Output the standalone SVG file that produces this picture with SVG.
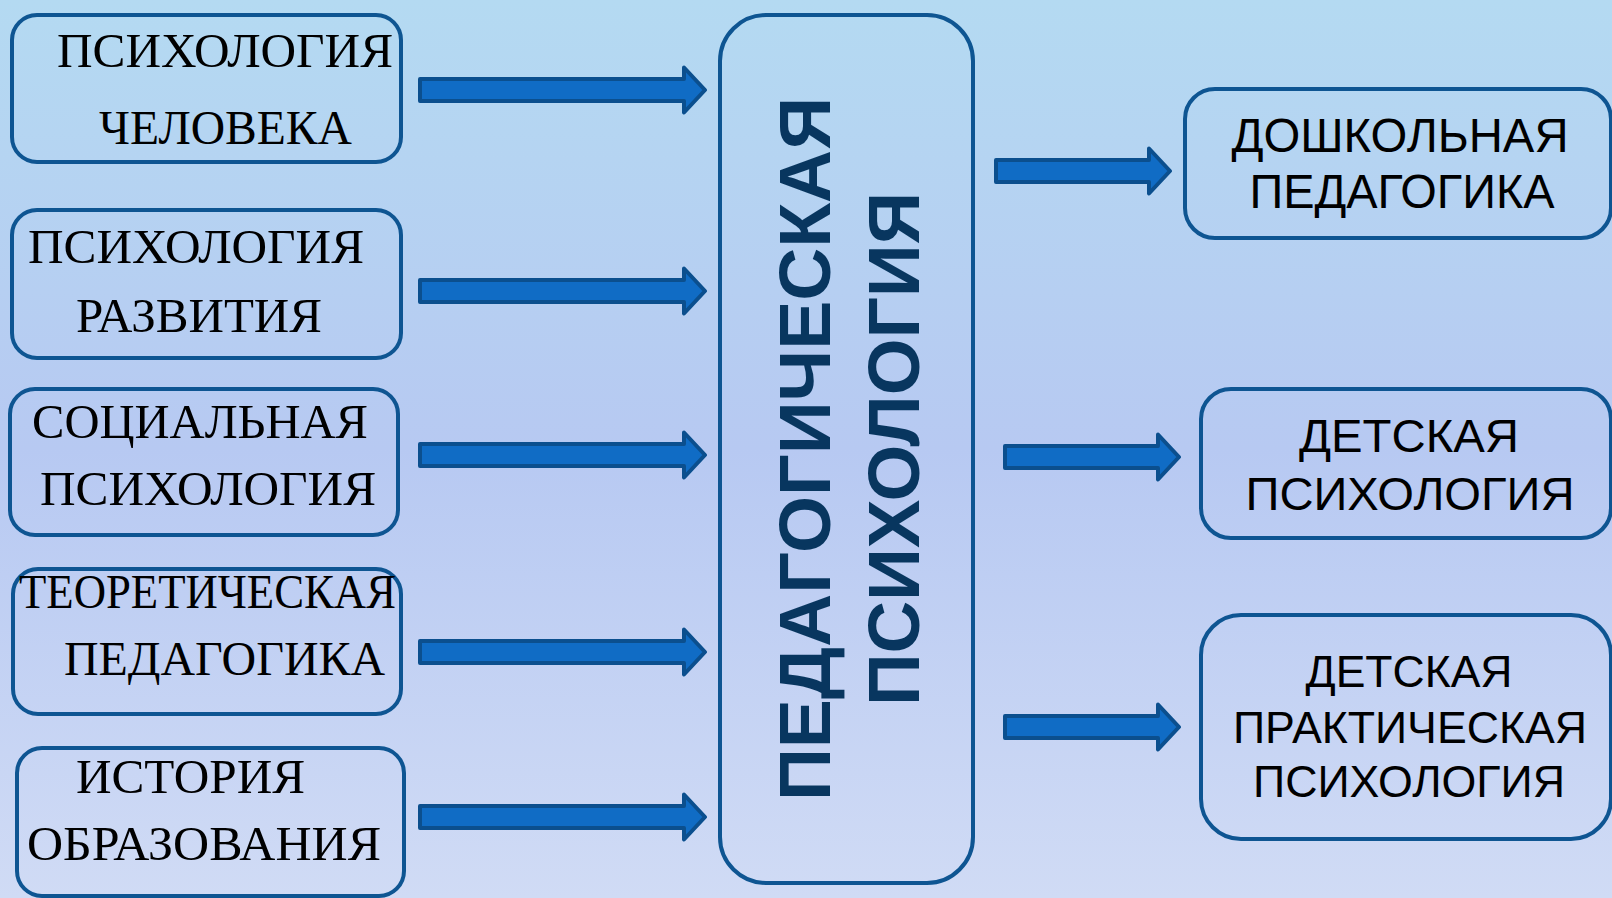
<svg xmlns="http://www.w3.org/2000/svg" width="1612" height="898" viewBox="0 0 1612 898">
  <defs>
    <linearGradient id="bg" x1="0" y1="0" x2="0" y2="1">
      <stop offset="0" stop-color="#b4daf2"/>
      <stop offset="0.5" stop-color="#b7c9f2"/>
      <stop offset="1" stop-color="#d0dbf5"/>
    </linearGradient>
  </defs>
  <style>
    .box { fill: none; stroke: #0e5592; stroke-width: 4; }
    .serif { font-family: "Liberation Serif", "Times New Roman", serif; font-size: 48px; fill: #000; }
    .sans { font-family: "Liberation Sans", Arial, sans-serif; fill: #000; text-anchor: middle; }
    .title { font-family: "Liberation Sans", Arial, sans-serif; font-weight: bold; font-size: 72px; fill: #08365f; text-anchor: middle; }
    .arrow { fill: #106cc5; stroke: #0b4f8e; stroke-width: 4; stroke-linejoin: round; }
  </style>
  <rect x="0" y="0" width="1612" height="898" fill="url(#bg)"/>

  <g id="node-psych-human">
    <rect class="box" x="12" y="15" width="389" height="147" rx="25"/>
    <text class="serif" x="57" y="67" textLength="336" lengthAdjust="spacingAndGlyphs">ПСИХОЛОГИЯ</text>
    <text class="serif" x="99" y="144" textLength="253" lengthAdjust="spacingAndGlyphs">ЧЕЛОВЕКА</text>
  </g>
  <g id="node-psych-dev">
    <rect class="box" x="12" y="210" width="389" height="148" rx="25"/>
    <text class="serif" x="28" y="263" textLength="336" lengthAdjust="spacingAndGlyphs">ПСИХОЛОГИЯ</text>
    <text class="serif" x="76" y="332" textLength="246" lengthAdjust="spacingAndGlyphs">РАЗВИТИЯ</text>
  </g>
  <g id="node-social">
    <rect class="box" x="10" y="389" width="388" height="146" rx="25"/>
    <text class="serif" x="32" y="438" textLength="336" lengthAdjust="spacingAndGlyphs">СОЦИАЛЬНАЯ</text>
    <text class="serif" x="40" y="505" textLength="336" lengthAdjust="spacingAndGlyphs">ПСИХОЛОГИЯ</text>
  </g>
  <g id="node-theor-ped">
    <rect class="box" x="13" y="569" width="388" height="145" rx="25"/>
    <text class="serif" x="19" y="608" font-size="45" textLength="377" lengthAdjust="spacingAndGlyphs">ТЕОРЕТИЧЕСКАЯ</text>
    <text class="serif" x="64" y="675" textLength="321" lengthAdjust="spacingAndGlyphs">ПЕДАГОГИКА</text>
  </g>
  <g id="node-history">
    <rect class="box" x="17" y="748" width="387" height="148" rx="25"/>
    <text class="serif" x="76" y="793" textLength="229" lengthAdjust="spacingAndGlyphs">ИСТОРИЯ</text>
    <text class="serif" x="27" y="860" textLength="354" lengthAdjust="spacingAndGlyphs">ОБРАЗОВАНИЯ</text>
  </g>

  <g id="node-center">
    <rect class="box" x="720" y="15" width="253" height="868" rx="46"/>
    <text class="title" transform="translate(830,449) rotate(-90)" textLength="704" lengthAdjust="spacingAndGlyphs">ПЕДАГОГИЧЕСКАЯ</text>
    <text class="title" transform="translate(919,449) rotate(-90)" textLength="514" lengthAdjust="spacingAndGlyphs">ПСИХОЛОГИЯ</text>
  </g>

  <g id="node-preschool">
    <rect class="box" x="1185" y="89" width="426" height="149" rx="30"/>
    <text class="sans" x="1400" y="152" font-size="48" textLength="337" lengthAdjust="spacingAndGlyphs">ДОШКОЛЬНАЯ</text>
    <text class="sans" x="1402" y="208" font-size="48" textLength="305" lengthAdjust="spacingAndGlyphs">ПЕДАГОГИКА</text>
  </g>
  <g id="node-child-psych">
    <rect class="box" x="1201" y="389" width="410" height="149" rx="30"/>
    <text class="sans" x="1409" y="452" font-size="46" textLength="220" lengthAdjust="spacingAndGlyphs">ДЕТСКАЯ</text>
    <text class="sans" x="1410" y="510" font-size="46" textLength="329" lengthAdjust="spacingAndGlyphs">ПСИХОЛОГИЯ</text>
  </g>
  <g id="node-child-pract">
    <rect class="box" x="1201" y="615" width="410" height="224" rx="40"/>
    <text class="sans" x="1409" y="687" font-size="44" textLength="207" lengthAdjust="spacingAndGlyphs">ДЕТСКАЯ</text>
    <text class="sans" x="1410" y="743" font-size="44" textLength="354" lengthAdjust="spacingAndGlyphs">ПРАКТИЧЕСКАЯ</text>
    <text class="sans" x="1409" y="797" font-size="44" textLength="312" lengthAdjust="spacingAndGlyphs">ПСИХОЛОГИЯ</text>
  </g>

  <g id="connectors">
    <path class="arrow" d="M420 79 L684 79 L684 67.5 L705 90 L684 112.5 L684 101 L420 101 Z"/>
    <path class="arrow" d="M420 280 L684 280 L684 268.5 L705 291 L684 313.5 L684 302 L420 302 Z"/>
    <path class="arrow" d="M420 444 L684 444 L684 432.5 L705 455 L684 477.5 L684 466 L420 466 Z"/>
    <path class="arrow" d="M420 641 L684 641 L684 629.5 L705 652 L684 674.5 L684 663 L420 663 Z"/>
    <path class="arrow" d="M420 806 L684 806 L684 794.5 L705 817 L684 839.5 L684 828 L420 828 Z"/>
    <path class="arrow" d="M996 160 L1149 160 L1149 148.5 L1170 171 L1149 193.5 L1149 182 L996 182 Z"/>
    <path class="arrow" d="M1005 446 L1158 446 L1158 434.5 L1179 457 L1158 479.5 L1158 468 L1005 468 Z"/>
    <path class="arrow" d="M1005 716 L1158 716 L1158 704.5 L1179 727 L1158 749.5 L1158 738 L1005 738 Z"/>
  </g>
</svg>
